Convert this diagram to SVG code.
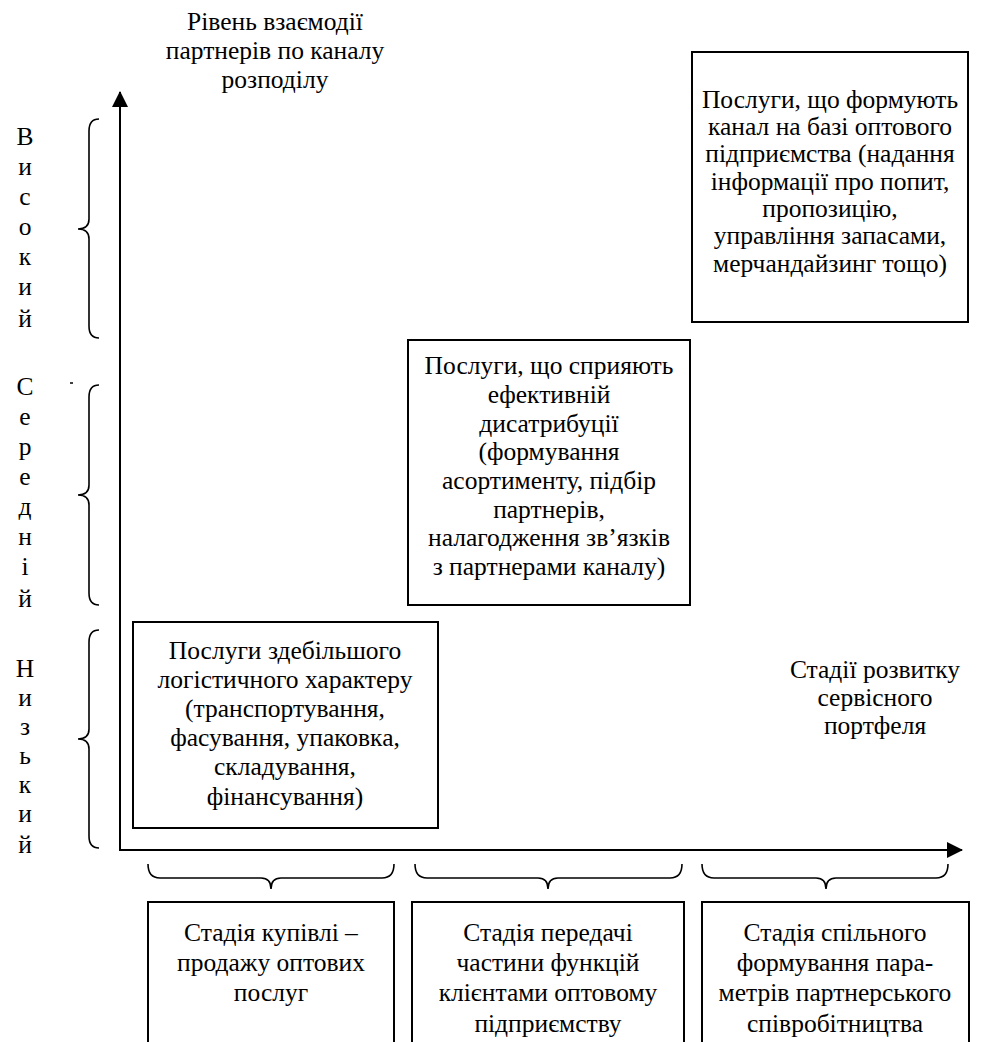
<svg xmlns="http://www.w3.org/2000/svg" width="991" height="1042" viewBox="0 0 991 1042">
  <defs>
    <marker id="arrow" viewBox="0 0 16 16" refX="15" refY="8" markerWidth="16" markerHeight="16" markerUnits="userSpaceOnUse" orient="auto">
      <path d="M0,0 L16,8 L0,16 Z" fill="#000"/>
    </marker>
  </defs>
  <style>
    text { font-family: "Liberation Serif", "Times New Roman", serif; font-size: 25.5px; fill: #000; }
    .c { text-anchor: middle; }
    .box { fill: #fff; stroke: #000; stroke-width: 2; }
    .axis { fill: none; stroke: #000; stroke-width: 2; }
    .brace { fill: none; stroke: #000; stroke-width: 1.6; }
  </style>
  <rect width="991" height="1042" fill="#fff"/>

  <!-- axes and braces -->
  <g id="connectors">
    <line class="axis" x1="120" y1="850" x2="120" y2="92" marker-end="url(#arrow)"/>
    <line class="axis" x1="119" y1="850" x2="962" y2="850" marker-end="url(#arrow)"/>
    <!-- level braces along the vertical axis -->
    <path class="brace" d="M99,119 Q89,119 89,131 L89,219 Q89,229 78,229 Q89,229 89,239 L89,326 Q89,338 99,338"/>
    <path class="brace" d="M99,385 Q89,385 89,397 L89,485 Q89,495 78,495 Q89,495 89,505 L89,593 Q89,605 99,605"/>
    <path class="brace" d="M99,630 Q89,630 89,642 L89,729 Q89,739 78,739 Q89,739 89,749 L89,836 Q89,848 99,848"/>
    <!-- stage braces under the horizontal axis -->
    <path class="brace" d="M148,864 Q148,878 160,878 L261,878 Q271,878 271,889 Q271,878 281,878 L382,878 Q394,878 394,864"/>
    <path class="brace" d="M415,864 Q415,878 427,878 L538,878 Q548,878 548,889 Q548,878 558,878 L670,878 Q682,878 682,864"/>
    <path class="brace" d="M702,864 Q702,878 714,878 L816,878 Q826,878 826,889 Q826,878 836,878 L936,878 Q948,878 948,864"/>
    <line x1="70" y1="383" x2="73" y2="383" stroke="#000" stroke-width="1.5"/>
  </g>

  <g id="y-title">
    <text class="c" x="275" y="30">Рівень взаємодії</text>
    <text class="c" x="275" y="59">партнерів по каналу</text>
    <text class="c" x="275" y="88">розподілу</text>
  </g>

  <g id="level-high">
    <text class="c" x="25" y="145">В</text>
    <text class="c" x="25" y="175">и</text>
    <text class="c" x="25" y="205">с</text>
    <text class="c" x="25" y="235">о</text>
    <text class="c" x="25" y="265">к</text>
    <text class="c" x="25" y="295">и</text>
    <text class="c" x="25" y="327">й</text>
  </g>
  <g id="level-mid">
    <text class="c" x="25" y="395">С</text>
    <text class="c" x="25" y="425">е</text>
    <text class="c" x="25" y="455">р</text>
    <text class="c" x="25" y="485">е</text>
    <text class="c" x="25" y="515">д</text>
    <text class="c" x="25" y="545">н</text>
    <text class="c" x="25" y="575">і</text>
    <text class="c" x="25" y="607">й</text>
  </g>
  <g id="level-low">
    <text class="c" x="25" y="677">Н</text>
    <text class="c" x="25" y="706">и</text>
    <text class="c" x="25" y="735">з</text>
    <text class="c" x="25" y="764">ь</text>
    <text class="c" x="25" y="793">к</text>
    <text class="c" x="25" y="822">и</text>
    <text class="c" x="25" y="853">й</text>
  </g>

  <g id="box-high">
    <rect class="box" x="692" y="52" width="276" height="270"/>
    <text class="c" x="830" y="108">Послуги, що формують</text>
    <text class="c" x="830" y="135">канал на базі оптового</text>
    <text class="c" x="830" y="162">підприємства (надання</text>
    <text class="c" x="830" y="190">інформації про попит,</text>
    <text class="c" x="830" y="217">пропозицію,</text>
    <text class="c" x="830" y="244">управління запасами,</text>
    <text class="c" x="830" y="272">мерчандайзинг тощо)</text>
  </g>

  <g id="box-mid">
    <rect class="box" x="408" y="340" width="282" height="265"/>
    <text class="c" x="549" y="374">Послуги, що сприяють</text>
    <text class="c" x="549" y="403">ефективній</text>
    <text class="c" x="549" y="432">дисатрибуції</text>
    <text class="c" x="549" y="460">(формування</text>
    <text class="c" x="549" y="489">асортименту, підбір</text>
    <text class="c" x="549" y="518">партнерів,</text>
    <text class="c" x="549" y="546">налагодження зв’язків</text>
    <text class="c" x="549" y="575">з партнерами каналу)</text>
  </g>

  <g id="box-low">
    <rect class="box" x="133" y="622" width="305" height="206"/>
    <text class="c" x="285" y="659">Послуги здебільшого</text>
    <text class="c" x="285" y="688">логістичного характеру</text>
    <text class="c" x="285" y="717">(транспортування,</text>
    <text class="c" x="285" y="746">фасування, упаковка,</text>
    <text class="c" x="285" y="775">складування,</text>
    <text class="c" x="285" y="805">фінансування)</text>
  </g>

  <g id="x-title">
    <text class="c" x="875" y="678">Стадії розвитку</text>
    <text class="c" x="875" y="706">сервісного</text>
    <text class="c" x="875" y="734">портфеля</text>
  </g>

  <g id="stage-1">
    <rect class="box" x="148" y="902" width="246" height="160"/>
    <text class="c" x="271" y="941">Стадія купівлі –</text>
    <text class="c" x="271" y="971">продажу оптових</text>
    <text class="c" x="271" y="1001">послуг</text>
  </g>
  <g id="stage-2">
    <rect class="box" x="412" y="902" width="272" height="160"/>
    <text class="c" x="548" y="941">Стадія передачі</text>
    <text class="c" x="548" y="971">частини функцій</text>
    <text class="c" x="548" y="1001">клієнтами оптовому</text>
    <text class="c" x="548" y="1032">підприємству</text>
  </g>
  <g id="stage-3">
    <rect class="box" x="702" y="902" width="267" height="160"/>
    <text class="c" x="835" y="941">Стадія спільного</text>
    <text class="c" x="835" y="971">формування пара-</text>
    <text class="c" x="835" y="1001">метрів партнерського</text>
    <text class="c" x="835" y="1032">співробітництва</text>
  </g>
</svg>
